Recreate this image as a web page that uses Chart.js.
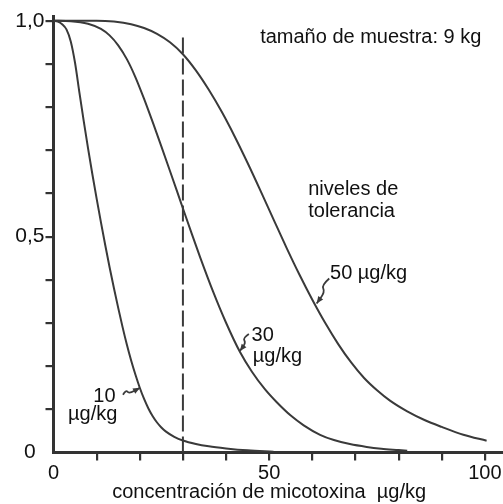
<!DOCTYPE html>
<html><head><meta charset="utf-8">
<script src="https://cdn.jsdelivr.net/npm/chart.js@4.4.0/dist/chart.umd.min.js"></script>
<style>html,body{margin:0;padding:0;background:#fff}#wrap{width:503px;height:504px}</style>
</head><body><div id="wrap"><canvas id="c" width="503" height="504"></canvas></div>
<script>
// ---- data ----
const curve10X = [0, 1, 2, 3, 4, 5, 6, 7, 8, 9, 10, 11, 12, 13, 14, 15, 16, 17, 18, 19, 20, 21, 22, 23, 24, 25, 26, 28, 30, 33, 36, 40, 45, 51];
const curve10Y = [1.0, 0.998, 0.992, 0.98, 0.952, 0.902, 0.834, 0.768, 0.705, 0.645, 0.588, 0.533, 0.48, 0.429, 0.381, 0.335, 0.291, 0.25, 0.213, 0.18, 0.15, 0.124, 0.102, 0.084, 0.0695, 0.058, 0.049, 0.0364, 0.0278, 0.0197, 0.0143, 0.0095, 0.005, 0.002];
const curve30X = [0, 4, 8, 11, 13, 15, 17, 19, 21, 23, 25, 27, 29.5, 32, 34, 37, 40, 43.2, 46, 49, 51.7, 55, 58, 61.8, 65, 68.7, 72.6, 76, 80, 82];
const curve30Y = [1.0, 0.999, 0.993, 0.981, 0.966, 0.943, 0.911, 0.869, 0.819, 0.765, 0.709, 0.652, 0.58, 0.508, 0.452, 0.3725, 0.3005, 0.2333, 0.1871, 0.1466, 0.1169, 0.0855, 0.063, 0.041, 0.0288, 0.0195, 0.0129, 0.0088, 0.0056, 0.004];
const curve50X = [0, 10, 14, 18, 21, 24, 27, 30, 33, 36, 39, 42, 45, 48, 51, 54, 57, 60, 63, 66, 69, 72, 75, 78, 82, 86, 90, 95, 100.4];
const curve50Y = [1.0, 1.0, 0.998, 0.992, 0.983, 0.9695, 0.95, 0.9224, 0.885, 0.84, 0.789, 0.732, 0.6705, 0.606, 0.54, 0.4746, 0.4122, 0.3537, 0.2997, 0.2511, 0.2085, 0.1725, 0.144, 0.12, 0.0952, 0.0752, 0.0592, 0.0412, 0.0272];
const limitX = [30, 30];
const limitY = [0, 0.971];
const xTickValues = [0, 10, 20, 30, 40, 50, 60, 70, 80, 90, 100];
const xTickLabels = ['0', '', '', '', '', '50', '', '', '', '', '100'];
const yTickValues = [0, 0.1, 0.2, 0.3, 0.4, 0.5, 0.6, 0.7, 0.8, 0.9, 1.0];
const yTickLabels = ['0', '', '', '', '', '0,5', '', '', '', '', '1,0'];
const axisTitle = 'concentración de micotoxina  µg/kg';
const seriesNames = ['10 µg/kg', '30 µg/kg', '50 µg/kg'];

// ---- annotations (data-space anchors) ----
const notes = [
  {text: 'tamaño de muestra: 9 kg', x: 47.9, y: 0.948},
  {text: 'niveles de', x: 59.05, y: 0.596},
  {text: 'tolerancia', x: 59.05, y: 0.545},
  {text: '50 µg/kg', x: 64.1, y: 0.401},
  {text: '30', x: 45.9, y: 0.259},
  {text: 'µg/kg', x: 46.2, y: 0.2096},
  {text: '10', x: 9.22, y: 0.1176},
  {text: 'µg/kg', x: 3.36, y: 0.0753}
];
const arrows = [
  {x: 20.05, y: 0.15, path: [[-17, 7], [-14, 2], [-11, 6], [0, 0]]},
  {x: 43.2, y: 0.235, path: [[9, -17], [3, -13], [6, -8], [0, 0]]},
  {x: 61.0, y: 0.345, path: [[12.6, -25], [5, -18.3], [8.3, -11.7], [0, 0]]}
];

const LINE = '#3a3a3a';
const TEXT = '#111';
const FONT = '"Liberation Sans", Arial, Helvetica, sans-serif';
const toPts = (xs, ys) => xs.map((v, i) => ({x: v, y: ys[i]}));

const annotPlugin = {
  id: 'annot',
  afterDraw(chart) {
    const {ctx, scales: {x, y}} = chart;
    ctx.save();
    ctx.fillStyle = TEXT;
    ctx.font = '20px ' + FONT;
    ctx.textBaseline = 'alphabetic';
    ctx.textAlign = 'left';
    notes.forEach(n => ctx.fillText(n.text, x.getPixelForValue(n.x), y.getPixelForValue(n.y)));
    ctx.textAlign = 'center';
    ctx.fillText(axisTitle, x.getPixelForValue(50), chart.height - 6);
    // squiggly arrows
    ctx.strokeStyle = LINE;
    ctx.fillStyle = LINE;
    ctx.lineWidth = 1.8;
    arrows.forEach(a => {
      const tx = x.getPixelForValue(a.x), ty = y.getPixelForValue(a.y);
      const p = a.path.map(q => [tx + q[0], ty + q[1]]);
      ctx.beginPath();
      ctx.moveTo(p[0][0], p[0][1]);
      for (let i = 1; i < p.length - 1; i++) {
        const mx = (p[i][0] + p[i + 1][0]) / 2, my = (p[i][1] + p[i + 1][1]) / 2;
        ctx.quadraticCurveTo(p[i][0], p[i][1], mx, my);
      }
      const last = p[p.length - 1], prev = p[p.length - 2];
      ctx.lineTo(last[0], last[1]);
      ctx.stroke();
      const ang = Math.atan2(last[1] - prev[1], last[0] - prev[0]);
      const L = 7, W = 3;
      ctx.beginPath();
      ctx.moveTo(last[0], last[1]);
      ctx.lineTo(last[0] - L * Math.cos(ang) + W * Math.sin(ang), last[1] - L * Math.sin(ang) - W * Math.cos(ang));
      ctx.lineTo(last[0] - L * Math.cos(ang) - W * Math.sin(ang), last[1] - L * Math.sin(ang) + W * Math.cos(ang));
      ctx.closePath();
      ctx.fill();
    });
    ctx.restore();
  }
};

const curveStyle = {borderColor: LINE, borderWidth: 2, pointRadius: 0, fill: false, cubicInterpolationMode: 'monotone'};

new Chart(document.getElementById('c'), {
  type: 'line',
  data: {
    datasets: [
      Object.assign({label: seriesNames[0], data: toPts(curve10X, curve10Y)}, curveStyle),
      Object.assign({label: seriesNames[1], data: toPts(curve30X, curve30Y)}, curveStyle),
      Object.assign({label: seriesNames[2], data: toPts(curve50X, curve50Y)}, curveStyle),
      {label: 'límite', data: toPts(limitX, limitY), borderColor: LINE, borderWidth: 2, borderDash: [16, 5], pointRadius: 0, fill: false}
    ]
  },
  options: {
    responsive: false,
    animation: false,
    devicePixelRatio: 1,
    layout: {padding: {top: 16.4, right: 0, left: 0, bottom: 0}},
    plugins: {legend: {display: false}, tooltip: {enabled: false}},
    scales: {
      x: {
        type: 'linear', min: 0, max: 104.2,
        afterFit: s => { s.height = 51.5; },
        afterBuildTicks: a => { a.ticks = xTickValues.map(v => ({value: v})); },
        ticks: {callback: (v, i) => xTickLabels[i], autoSkip: false, maxRotation: 0, padding: 1, color: TEXT, font: {size: 20, family: FONT}},
        grid: {drawOnChartArea: false, tickLength: 8, lineWidth: 2.2, color: c => (c.tick && c.tick.value === 0) ? 'rgba(0,0,0,0)' : '#333'},
        border: {width: 3, color: '#333'}
      },
      y: {
        type: 'linear', min: 0, max: 1.01,
        afterFit: s => { s.width = 53.5; },
        afterBuildTicks: a => { a.ticks = yTickValues.map(v => ({value: v})); },
        ticks: {callback: (v, i) => yTickLabels[i], autoSkip: false, crossAlign: 'center', padding: 1, color: TEXT, font: {size: 21, family: FONT}},
        grid: {drawOnChartArea: false, tickLength: 8, lineWidth: 2.2, color: c => (c.tick && c.tick.value === 0) ? 'rgba(0,0,0,0)' : '#333'},
        border: {width: 3, color: '#333'}
      }
    }
  },
  plugins: [annotPlugin]
});
</script>
</body></html>
